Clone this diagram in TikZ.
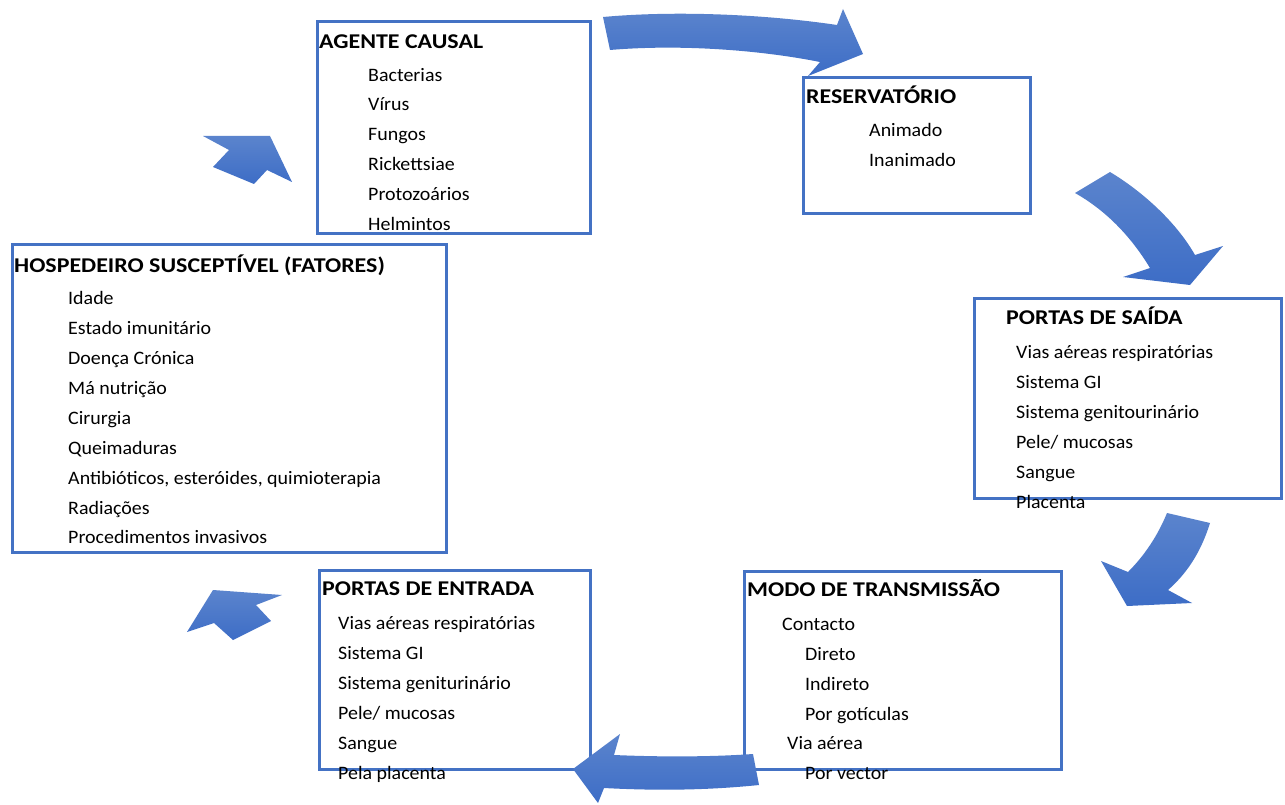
\documentclass[tikz,border=0pt]{standalone}
\usepackage{fontspec}
\setmainfont{Carlito}
\newfontfamily\ttlfont{Carlito}[FakeStretch=1.14]
\newfontfamily\itmfont{Carlito}[FakeStretch=1.05]
\definecolor{bord}{HTML}{4472C4}
\definecolor{atop}{HTML}{5B84CD}
\definecolor{abot}{HTML}{3D6DC6}
\begin{document}
\begin{tikzpicture}[x=1pt,y=-1pt,
  box/.style={draw=bord, line width=3pt, inner sep=0pt, anchor=north west},
  ttl/.style={anchor=base west, inner sep=0pt, yshift=-1.5pt, font=\ttlfont\fontsize{21}{24}\selectfont\bfseries},
  itm/.style={anchor=base west, inner sep=0pt, yshift=-1.5pt, font=\itmfont\fontsize{19}{22}\selectfont},
  arr/.style={top color=atop, bottom color=abot, draw=none}]
\useasboundingbox[fill=white] (0,0) rectangle (1285,805);

% boxes
\node[box, minimum width=273pt, minimum height=212pt] (agente) at (316,20) {};
\node[box, minimum width=227pt, minimum height=136pt] (reserv) at (802,76) {};
\node[box, minimum width=307pt, minimum height=200pt] (saida) at (973,297) {};
\node[box, minimum width=317pt, minimum height=198pt] (modo) at (743,570) {};
\node[box, minimum width=271pt, minimum height=199pt] (entrada) at (318,569) {};
\node[box, minimum width=434pt, minimum height=308pt] (hosp) at (11,243) {};

% AGENTE CAUSAL
\node[ttl] (t1) at (319,47) {AGENTE CAUSAL};
\node[itm] (a1) at (368,80) {Bacterias};
\node[itm] (a2) at (368,109) {Vírus};
\node[itm] (a3) at (368,139) {Fungos};
\node[itm] (a4) at (368,169) {Rickettsiae};
\node[itm] (a5) at (368,199) {Protozoários};
\node[itm] (a6) at (368,229) {Helmintos};

% RESERVATORIO
\node[ttl] (t2) at (806,102) {RESERVATÓRIO};
\node[itm] (r1) at (869,135) {Animado};
\node[itm] (r2) at (869,165) {Inanimado};

% PORTAS DE SAIDA
\node[ttl] (t3) at (1006,323) {PORTAS DE SAÍDA};
\node[itm] (s1) at (1016,357) {Vias aéreas respiratórias};
\node[itm] (s2) at (1016,387) {Sistema GI};
\node[itm] (s3) at (1016,417) {Sistema genitourinário};
\node[itm] (s4) at (1016,447) {Pele/ mucosas};
\node[itm] (s5) at (1016,477) {Sangue};
\node[itm] (s6) at (1016,507) {Placenta};

% MODO DE TRANSMISSAO
\node[ttl] (t4) at (747,595) {MODO DE TRANSMISSÃO};
\node[itm] (m1) at (782,629) {Contacto};
\node[itm] (m2) at (805,659) {Direto};
\node[itm] (m3) at (805,689) {Indireto};
\node[itm] (m4) at (805,719) {Por gotículas};
\node[itm] (m5) at (787,748) {Via aérea};
\node[itm] (m6) at (805,778) {Por vector};

% PORTAS DE ENTRADA
\node[ttl] (t5) at (322,594) {PORTAS DE ENTRADA};
\node[itm] (e1) at (338,628) {Vias aéreas respiratórias};
\node[itm] (e2) at (338,658) {Sistema GI};
\node[itm] (e3) at (338,688) {Sistema geniturinário};
\node[itm] (e4) at (338,718) {Pele/ mucosas};
\node[itm] (e5) at (338,748) {Sangue};
\node[itm] (e6) at (338,778) {Pela placenta};

% HOSPEDEIRO
\node[ttl] (t6) at (14,271) {HOSPEDEIRO SUSCEPTÍVEL (FATORES)};
\node[itm] (h1) at (68,303) {Idade};
\node[itm] (h2) at (68,333) {Estado imunitário};
\node[itm] (h3) at (68,363) {Doença Crónica};
\node[itm] (h4) at (68,393) {Má nutrição};
\node[itm] (h5) at (68,423) {Cirurgia};
\node[itm] (h6) at (68,453) {Queimaduras};
\node[itm] (h7) at (68,483) {Antibióticos, esteróides, quimioterapia};
\node[itm] (h8) at (68,513) {Radiações};
\node[itm] (h9) at (68,542) {Procedimentos invasivos};

% arrows
\path[arr] (603,17) .. controls (680,10) and (770,15) .. (837,25) -- (843,9) -- (863,54) -- (808,76) -- (820,62) .. controls (760,50) and (680,44) .. (610,50) -- cycle;
\path[arr] (1075,193) -- (1110,172) .. controls (1140,190) and (1175,220) .. (1195,255) -- (1223,246) -- (1190,285) -- (1123,277) -- (1150,268) .. controls (1130,235) and (1105,210) .. (1075,193) -- cycle;
\path[arr] (1167,513) -- (1210,523) .. controls (1200,555) and (1185,575) .. (1168,590) -- (1192,603) -- (1127,606) -- (1101,561) -- (1128,572) .. controls (1145,555) and (1158,535) .. (1167,513) -- cycle;
\path[arr] (753,754) .. controls (710,757) and (660,757) .. (614,755) -- (620,734) -- (573,769) -- (598,803) -- (604,788) .. controls (660,791) and (710,790) .. (759,785) -- cycle;
\path[arr] (213,590) -- (282,595) -- (256,605) -- (271,621) -- (233,640) -- (214,623) -- (187,632) -- cycle;
\path[arr] (203,136) -- (270,136) -- (292,182) -- (267,170) -- (254,184) -- (213,167) -- (229,150) -- cycle;
\end{tikzpicture}
\end{document}
